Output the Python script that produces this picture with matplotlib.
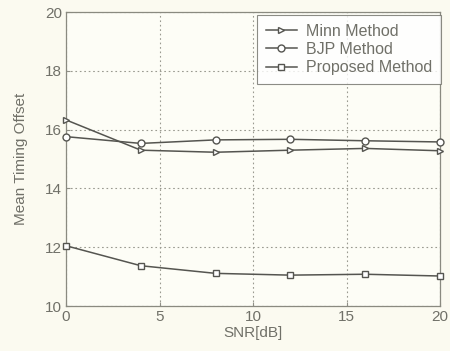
import matplotlib
matplotlib.use("Agg")
import matplotlib.pyplot as plt

plt.rcParams['font.family'] = ['Liberation Sans', 'DejaVu Sans']

snr = [0, 4, 8, 12, 16, 20]
minn = [16.33, 15.30, 15.23, 15.30, 15.36, 15.28]
bjp = [15.76, 15.53, 15.65, 15.67, 15.62, 15.58]
proposed = [12.05, 11.37, 11.11, 11.05, 11.08, 11.02]
labels = ['Minn Method', 'BJP Method', 'Proposed Method']

bg = '#fbfaf0'
lc = '#555550'
tc = '#707068'

fig = plt.figure(figsize=(4.5, 3.51), dpi=100, facecolor=bg)
ax = fig.add_axes([66/450, 1-306/351, (440-66)/450, (306-12)/351])
ax.set_facecolor('#fdfdf6')

kw = dict(color=lc, lw=1.1, markersize=5, markerfacecolor='white', markeredgecolor=lc,
          markeredgewidth=1.0, clip_on=False, zorder=3)
ax.plot(snr, minn, marker='>', label=labels[0], **kw)
ax.plot(snr, bjp, marker='o', label=labels[1], **kw)
ax.plot(snr, proposed, marker='s', label=labels[2], **kw)

ax.set_xlim(0, 20)
ax.set_ylim(10, 20)
ax.set_xticks([0, 5, 10, 15, 20])
ax.set_yticks([10, 12, 14, 16, 18, 20])
ax.grid(True, linestyle=(0, (1.5, 2.5)), color='#9a9a90', lw=0.8)
ax.tick_params(direction='in', length=3, colors='#909088', labelcolor=tc, labelsize=11, pad=3)
for s in ax.spines.values():
    s.set_color('#8a8a80')
    s.set_linewidth(0.9)

ax.set_xlabel('SNR[dB]', color=tc, fontsize=11, labelpad=1)
ax.set_ylabel('Mean Timing Offset', color=tc, fontsize=11, labelpad=12)

leg = ax.legend(loc='upper right', bbox_to_anchor=(1.003, 0.99), fontsize=11.5, frameon=True,
                fancybox=False, handlelength=1.9, borderpad=0.55, labelspacing=0.2,
                handletextpad=0.6, borderaxespad=0.0)
leg.get_frame().set_edgecolor('#707068')
leg.get_frame().set_facecolor('white')
leg.get_frame().set_linewidth(0.8)
for t in leg.get_texts():
    t.set_color(tc)

fig.savefig('out.png', dpi=100, facecolor=bg)
